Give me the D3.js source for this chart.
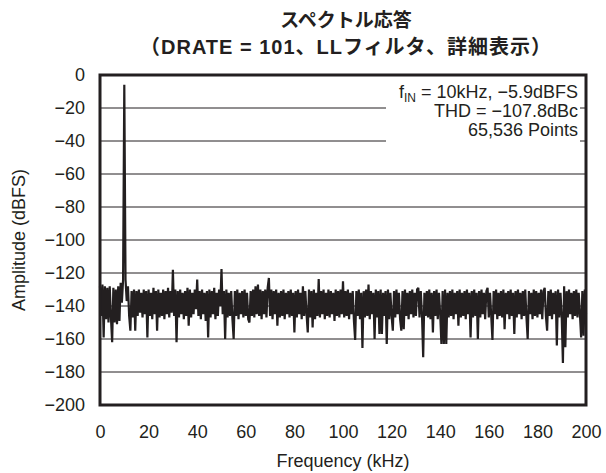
<!DOCTYPE html>
<html><head><meta charset="utf-8">
<script src="https://cdn.jsdelivr.net/npm/d3@7"></script>
<style>
html,body{margin:0;padding:0;background:#fff;}
text{font-family:"Liberation Sans",Arial,"Noto Sans CJK JP",sans-serif;fill:#231f20;}
</style></head>
<body>
<svg id="chart" width="606" height="473"></svg>
<script>
// ---- data ----
const titleLines = ["スペクトル応答", "（DRATE = 101、LLフィルタ、詳細表示）"];
const xTicks = [0, 20, 40, 60, 80, 100, 120, 140, 160, 180, 200];
const yTicks = [0, -20, -40, -60, -80, -100, -120, -140, -160, -180, -200];
const annotations = ["= 10kHz, −5.9dBFS", "THD = −107.8dBc", "65,536 Points"];
const freqStartKHz = 0;
const freqStepKHz = 0.5;
// amplitude (dBFS) for each 0.5 kHz bin, 0 .. 200 kHz
const amplitudeDBFS = [
 -128,-146,-127,-159,-128,-148,-129,-150,-128,-147,   // 0
 -162,-129,-150,-130,-151,-128,-149,-126,-138,-124,   // 5
 -5.9,-124,-137,-128,-146,-155,-131,-147,-130,-155,   // 10
 -131,-146,-130,-144,-132,-147,-130,-145,-131,-159,   // 15
 -130,-146,-132,-148,-129,-145,-131,-155,-130,-147,   // 20
 -132,-146,-130,-148,-131,-145,-129,-147,-131,-144,   // 25
 -118,-146,-130,-162,-131,-147,-130,-145,-132,-148,   // 30
 -131,-146,-129,-152,-130,-147,-132,-145,-130,-142,   // 35
 -124,-146,-131,-148,-130,-145,-132,-149,-131,-159,   // 40
 -130,-147,-131,-145,-129,-148,-132,-146,-130,-140,   // 45
 -117.6,-145,-131,-160,-130,-147,-132,-146,-131,-148, // 50
 -160,-131,-146,-130,-148,-132,-145,-131,-147,-130,   // 55
 -146,-132,-148,-150,-131,-146,-130,-147,-128,-145,   // 60
 -127,-146,-130,-148,-131,-145,-130,-147,-129,-123,   // 65
 -146,-130,-148,-131,-145,-130,-152,-132,-147,-131,   // 70
 -146,-130,-148,-132,-145,-131,-147,-130,-146,-132,   // 75
 -156,-131,-147,-130,-145,-132,-148,-128,-146,-131,   // 80
 -145,-156,-130,-147,-131,-153,-130,-148,-132,-146,   // 85
 -123.7,-147,-131,-145,-130,-148,-132,-146,-130,-147, // 90
 -131,-145,-132,-149,-130,-146,-131,-147,-130,-145,   // 95
 -125,-147,-131,-146,-130,-148,-132,-145,-131,-149,   // 100
 -160.6,-131,-146,-130,-148,-132,-165.5,-131,-147,-130, // 105
 -146,-127,-148,-131,-145,-132,-160,-130,-147,-131,   // 110
 -157,-130,-157,-132,-146,-131,-163,-130,-148,-132,   // 115
 -146,-155,-131,-147,-130,-145,-132,-148,-155,-131,   // 120
 -154,-130,-146,-132,-148,-131,-145,-130,-147,-132,   // 125
 -146,-130,-129,-147,-131,-145,-171,-132,-146,-131,   // 130
 -147,-130,-148,-132,-156,-131,-146,-130,-148,-132,   // 135
 -145,-163,-131,-163,-130,-163,-132,-147,-131,-146,   // 140
 -130,-148,-132,-145,-131,-152,-130,-147,-132,-146,   // 145
 -131,-148,-130,-145,-132,-159,-131,-147,-130,-146,   // 150
 -132,-160,-131,-147,-130,-145,-132,-148,-131,-129,   // 155
 -147,-132,-146,-160.6,-131,-145,-130,-148,-132,-146, // 160
 -131,-147,-130,-154,-132,-145,-131,-148,-130,-146,   // 165
 -132,-157,-131,-147,-130,-145,-132,-148,-131,-146,   // 170
 -130,-147,-160,-131,-145,-132,-148,-130,-146,-131,   // 175
 -147,-132,-145,-130,-148,-131,-129,-146,-155,-131,   // 180
 -146,-130,-148,-132,-145,-131,-164,-130,-147,-132,   // 185
 -146,-174.5,-128,-165,-131,-147,-130,-145,-132,-148, // 190
 -131,-146,-130,-147,-132,-145,-159,-131,-158,-130,   // 195
 -145                                                 // 200
];

// ---- drawing ----
const svg = d3.select("#chart");
const ink = "#231f20";
const mL = 100, mR = 586, mT = 75, mB = 405;
const x = d3.scaleLinear().domain([0, 200]).range([mL, mR]);
const y = d3.scaleLinear().domain([-200, 0]).range([mB, mT]);

const series = amplitudeDBFS.map((v, i) => ({f: freqStartKHz + i * freqStepKHz, v}));

// title
svg.append("text").attr("x", 346).attr("y", 27).attr("text-anchor", "middle")
  .style("font-size", "19px").style("font-weight", "bold").text(titleLines[0]);
svg.append("text").attr("x", 346).attr("y", 54).attr("text-anchor", "middle")
  .style("font-size", "20px").style("font-weight", "bold").style("letter-spacing", "1px")
  .text(titleLines[1]);

// grid
svg.append("g").selectAll("line").data(yTicks.filter(t => t !== 0 && t !== -200)).join("line")
  .attr("x1", mL).attr("x2", mR)
  .attr("y1", d => y(d)).attr("y2", d => y(d))
  .attr("stroke", ink).attr("stroke-width", 1);

// data line
svg.append("path").datum(series)
  .attr("fill", "none").attr("stroke", ink).attr("stroke-width", 2.2)
  .attr("stroke-linejoin", "miter").attr("stroke-miterlimit", 2)
  .attr("d", d3.line().x(d => x(d.f)).y(d => y(d.v)));

// annotation box
svg.append("rect").attr("x", 386).attr("y", 82).attr("width", 194).attr("height", 62)
  .attr("fill", "#fff");
const ann = svg.append("g").attr("text-anchor", "end").style("font-size", "18px");
const a0 = ann.append("text").attr("x", 578).attr("y", 98);
a0.append("tspan").text("f");
a0.append("tspan").attr("dy", 4).style("font-size", "12px").text("IN");
a0.append("tspan").attr("dy", -4).text(" " + annotations[0]);
ann.append("text").attr("x", 578).attr("y", 117).text(annotations[1]);
ann.append("text").attr("x", 578).attr("y", 136).text(annotations[2]);

// frame
svg.append("rect").attr("x", mL).attr("y", mT).attr("width", mR - mL).attr("height", mB - mT)
  .attr("fill", "none").attr("stroke", ink).attr("stroke-width", 3);

// axes (labels only)
const fmt = d => d < 0 ? "−" + Math.abs(d) : String(d);
const yAxis = d3.axisLeft(y).tickValues(yTicks).tickSize(0).tickPadding(15).tickFormat(fmt);
const gy = svg.append("g").attr("transform", `translate(${mL},0)`).call(yAxis);
const xAxis = d3.axisBottom(x).tickValues(xTicks).tickSize(0).tickPadding(20).tickFormat(fmt);
const gx = svg.append("g").attr("transform", `translate(0,${mB})`).call(xAxis);
[gx, gy].forEach(g => {
  g.select(".domain").remove();
  g.selectAll("text").style("font-size", "18px").attr("fill", ink)
   .style("font-family", '"Liberation Sans",Arial,sans-serif');
});

// axis titles
svg.append("text").attr("x", 343).attr("y", 467).attr("text-anchor", "middle")
  .style("font-size", "18px").text("Frequency (kHz)");
svg.append("text").attr("transform", "translate(25,240) rotate(-90)").attr("text-anchor", "middle")
  .style("font-size", "18px").text("Amplitude (dBFS)");
</script>
</body></html>
